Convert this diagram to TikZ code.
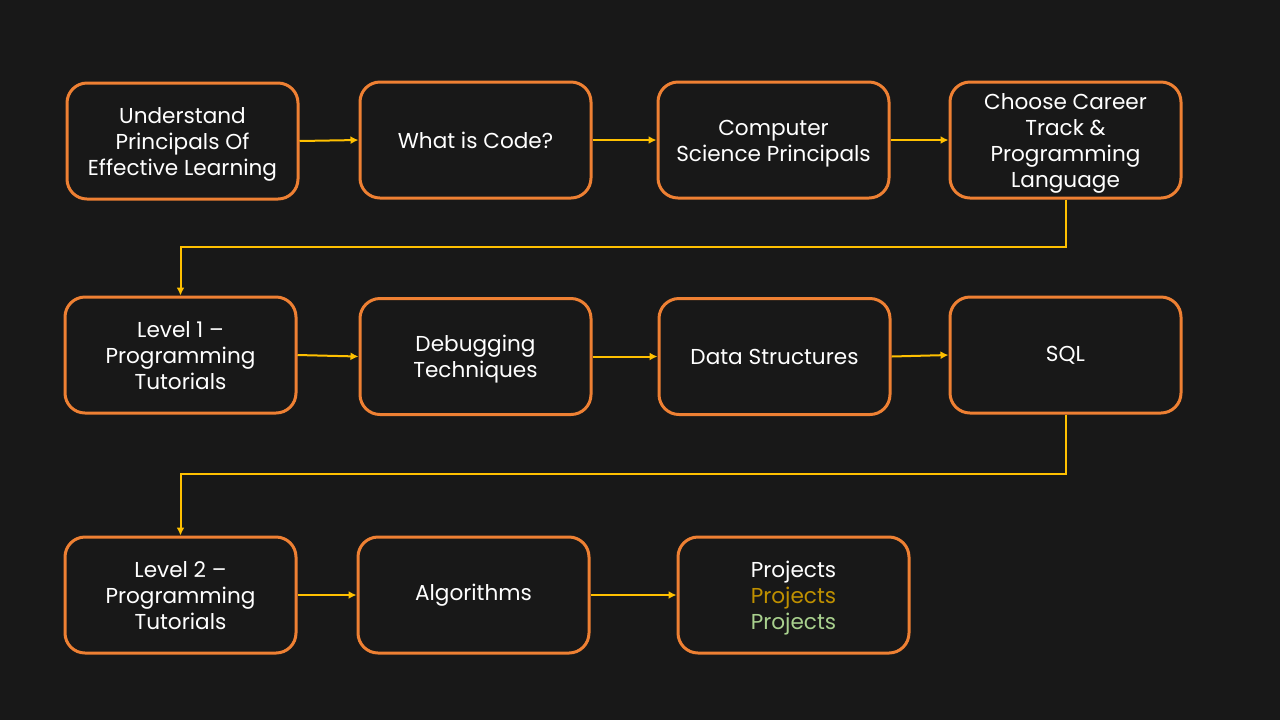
\documentclass[tikz,border=0pt]{standalone}
\usepackage{fontspec}
\setmainfont{Poppins}
\usetikzlibrary{arrows.meta}
\definecolor{bg}{HTML}{181818}
\definecolor{boxline}{HTML}{EE8033}
\definecolor{arrowc}{HTML}{FFC000}
\definecolor{gold}{HTML}{BF9000}
\definecolor{lgreen}{HTML}{A9D18E}
\newcommand\mlines[1]{\raisebox{-1.5pt}[\height][\depth]{\begin{tabular}{@{}c@{}}#1\end{tabular}}}
\tikzset{
  stepbox/.style={draw=boxline, line width=1.5pt, rounded corners=10pt, fill=bg,
    minimum width=115.5pt, minimum height=58pt, text=white, align=center,
    font=\fontsize{10.8pt}{13pt}\selectfont, inner sep=0pt},
  conn/.style={draw=arrowc, line width=1pt, -{Latex[length=4pt,width=4pt]}}
}
\begin{document}
\begin{tikzpicture}[x=0.5pt,y=-0.5pt]
\fill[bg] (0,0) rectangle (1280,720);
\useasboundingbox (0,0) rectangle (1280,720);
\node[stepbox] (a) at (182.5,141) {\mlines{Understand\\Principals Of\\Effective Learning}};
\node[stepbox] (b) at (475.5,140) {What is Code?};
\node[stepbox] (c) at (773.5,140) {\mlines{Computer\\Science Principals}};
\node[stepbox] (d) at (1065.5,140) {\mlines{Choose Career\\Track \&\\Programming\\Language}};
\node[stepbox] (e) at (180.5,355) {\mlines{Level 1 –\\Programming\\Tutorials}};
\node[stepbox] (f) at (475.5,356.5) {\mlines{Debugging\\Techniques}};
\node[stepbox] (g) at (774.5,356.5) {Data Structures};
\node[stepbox] (h) at (1065.5,355) {SQL};
\node[stepbox] (i) at (180.5,595) {\mlines{Level 2 –\\Programming\\Tutorials}};
\node[stepbox] (j) at (473.5,595) {Algorithms};
\node[stepbox] (k) at (793.5,595) {\mlines{Projects\\\textcolor{gold}{Projects}\\\textcolor{lgreen}{Projects}}};
\draw[conn] (a.east) -- (b.west);
\draw[conn] (b.east) -- (c.west);
\draw[conn] (c.east) -- (d.west);
\draw[conn] (d.south) |- (180.5,247) -- (e.north);
\draw[conn] (e.east) -- (f.west);
\draw[conn] (f.east) -- (g.west);
\draw[conn] (g.east) -- (h.west);
\draw[conn] (h.south) |- (180.5,474) -- (i.north);
\draw[conn] (i.east) -- (j.west);
\draw[conn] (j.east) -- (k.west);
\end{tikzpicture}
\end{document}
